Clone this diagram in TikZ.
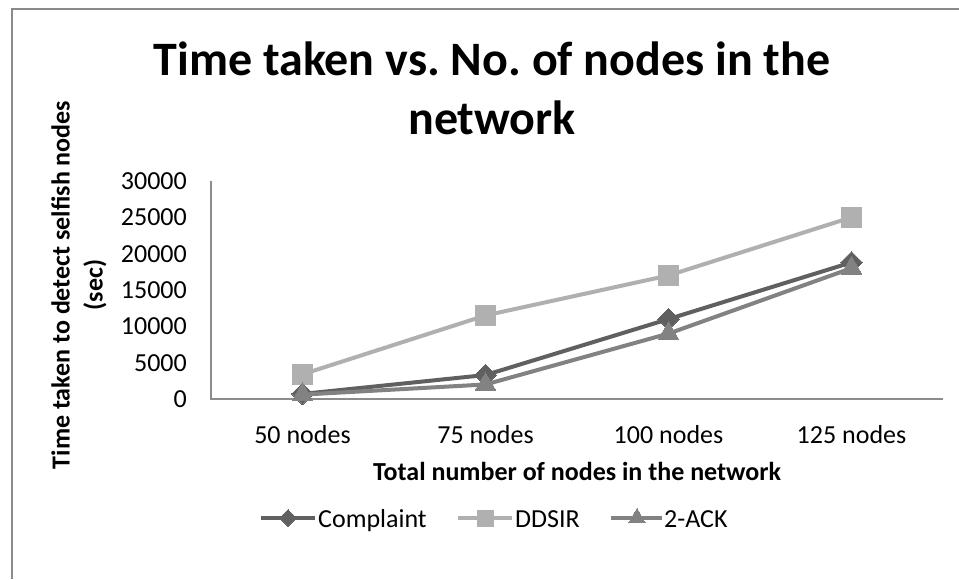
\documentclass[tikz,border=0pt]{standalone}
\usepackage{fontspec}
\setmainfont{Carlito}
\usetikzlibrary{plotmarks}
\definecolor{cComp}{HTML}{606060}
\definecolor{cDDS}{HTML}{B0B0B0}
\definecolor{cAck}{HTML}{828282}
\definecolor{cAxis}{HTML}{8C8C8C}
\definecolor{cFrame}{HTML}{8A8A8A}
\frenchspacing
\begin{document}
\begin{tikzpicture}[x=1pt,y=-1pt,
  ticklab/.style={font=\fontsize{26}{31}\selectfont, anchor=base east, inner sep=0pt},
  catlab/.style={font=\fontsize{26}{31}\selectfont, anchor=base, inner sep=0pt},
  axtitle/.style={font=\fontsize{26}{33}\selectfont\bfseries, inner sep=0pt},
  titlefont/.style={font=\fontsize{48}{58}\selectfont\bfseries, anchor=base, inner sep=0pt},
  legtext/.style={font=\fontsize{26}{31}\selectfont, anchor=base west, inner sep=0pt},
  serComp/.style={cComp, line width=4pt, mark=square*, mark size=7.6pt, mark options={rotate=45, fill=cComp, draw=cComp, line width=0pt}},
  serDDS/.style={cDDS, line width=4pt, mark=square*, mark size=10pt, mark options={fill=cDDS, draw=cDDS, line width=0pt}},
  serAck/.style={cAck, line width=4pt, mark=triangle*, mark size=12pt, mark options={fill=cAck, draw=cAck, line width=0pt}},
  legComp/.style={serComp, mark size=6pt, mark indices={2}},
  legDDS/.style={serDDS, mark size=8pt, mark indices={2}},
  legAck/.style={serAck, mark size=9.5pt, mark indices={2}}
]
\useasboundingbox (0,0) rectangle (959,579);
\fill[white] (0,0) rectangle (959,579);
% frame (cropped on right and bottom)
\draw[cFrame, line width=2.5pt] (12,579) -- (12,9) -- (959,9);

% title
\node[titlefont] (title1) at (492,75) {Time taken vs. No. of nodes in the};
\node[titlefont] (title2) at (492,134) {network};

% axes
\coordinate (ytop) at (211,181);
\coordinate (orig) at (211,399);
\coordinate (xend) at (943,399);
\draw[cAxis, line width=1.2pt] (ytop) -- (orig) -- (xend);

% y tick labels
\foreach \k/\v/\nm in {0/0/t0,5/5000/t1,10/10000/t2,15/15000/t3,20/20000/t4,25/25000/t5,30/30000/t6}{
  \pgfmathsetmacro{\yy}{399-\k/30*218+8.5}
  \node[ticklab] (\nm) at (187,\yy) {\v};
}

% category labels
\node[catlab] (c1) at (302.5,443) {50 nodes};
\node[catlab] (c2) at (485.5,443) {75 nodes};
\node[catlab] (c3) at (668.5,443) {100 nodes};
\node[catlab] (c4) at (851.5,443) {125 nodes};

% axis titles
\node[axtitle, anchor=base] (xtitle) at (577,480) {Total number of nodes in the network};
\node[axtitle, rotate=90, align=center] (ytitle) at (79,285) {Time taken to detect selfish nodes\\(sec)};

% data (values in thousands)
\begin{scope}[shift={(0,399)}, y=7.26667pt]
  \draw[serDDS] plot coordinates {(302.5,3.4) (485.5,11.5) (668.5,17) (851.5,25)};
  \draw[serComp] plot coordinates {(302.5,0.7) (485.5,3.3) (668.5,11) (851.5,18.8)};
  \draw[serAck] plot coordinates {(302.5,0.6) (485.5,2.0) (668.5,9.0) (851.5,18.0)};
\end{scope}

% legend
\draw[legComp] plot coordinates {(261,518) (288,518) (315,518)};
\node[legtext] (lg1) at (318,527) {Complaint};
\draw[legDDS] plot coordinates {(458,518) (485,518) (512,518)};
\node[legtext] (lg2) at (515,527) {DDSIR};
\draw[legAck] plot coordinates {(611,518) (637,518) (662,518)};
\node[legtext] (lg3) at (664,527) {2-ACK};
\end{tikzpicture}
\end{document}
